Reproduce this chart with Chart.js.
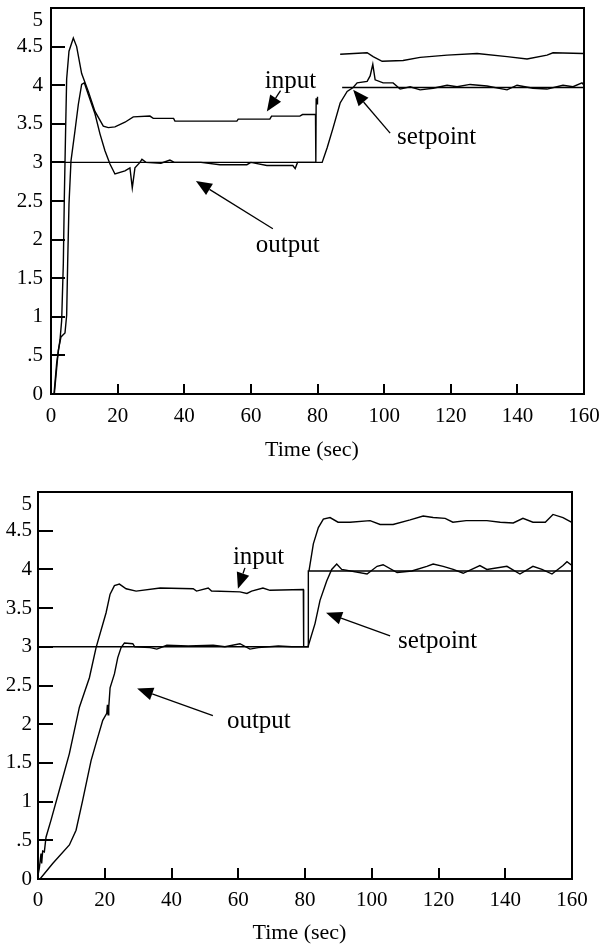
<!DOCTYPE html>
<html><head><meta charset="utf-8">
<script src="https://cdn.jsdelivr.net/npm/chart.js@4.4.1/dist/chart.umd.min.js"></script>
<style>
html,body{margin:0;padding:0;background:#fff;}
#wrap{position:relative;width:600px;height:945px;background:#fff;}
#c1{position:absolute;left:0;top:0;}
#c2{position:absolute;left:0;top:470px;}
</style></head><body>
<div id="wrap"><canvas id="c1" width="600" height="470"></canvas><canvas id="c2" width="600" height="475"></canvas></div>
<script>
// ---------- axis ticks ----------
const xTickStep = 20;      // Time (sec): 0..160
const yTickStep = 0.5;     // 0..5
const xLabelText = 'Time (sec)';

// ---------- top chart data ----------
const topSetT = [0, 79.5, 80, 87.4, 160];
const topSetV = [3, 3, null, 3.97, 3.97];

const topInT = [0.9,1.7,2.7,3.2,3.7,4.0,4.4,4.7,5.4,6.7,7.7,9.2,11.2,13.2,15.7,17.2,19.2,22.2,24.7,29.7,30.7,36.8,37.2,55.8,56.2,65.7,66.2,74.7,75.5,79.4,79.5,79.6,79.9,80.0,83,86.8,94.9,96.7,99.4,105.7,110.8,118.9,127.9,136.9,142.9,148.9,150.7,159.7];
const topInV = [0,0.4,0.7,0.95,1.69,2.54,3.45,4.08,4.44,4.61,4.5,4.15,3.92,3.66,3.47,3.45,3.46,3.52,3.59,3.6,3.57,3.57,3.535,3.535,3.56,3.56,3.6,3.6,3.62,3.62,3.0,3.83,3.76,3.85,null,4.40,4.42,4.37,4.31,4.32,4.36,4.39,4.41,4.37,4.34,4.39,4.42,4.41];

const topOutT = [1.0,2.2,3.0,4.2,4.7,5.0,5.4,6.0,7.2,8.2,9.2,10.0,11.2,13.2,14.7,16.2,17.7,19.2,22.2,23.7,24.4,25.2,26.7,27.3,28.5,33,35.7,37,45,50.7,58.8,60,64.8,72.6,73.3,74,81.4,82.9,84.7,86.8,88.9,90.7,91.9,94.9,95.8,96.6,97.3,99.7,102.7,104.8,107.8,110.8,114.7,118.9,121.9,125.8,130.9,136.9,139.9,144.7,148.9,153.7,156.7,159.4,160];
const topOutV = [0,0.57,0.74,0.79,1.02,1.69,2.46,3.02,3.41,3.75,4.01,4.03,3.88,3.63,3.37,3.15,2.98,2.85,2.89,2.93,2.67,2.93,3.0,3.04,3.0,2.99,3.03,3.0,3.0,2.97,2.97,3.0,2.96,2.96,2.92,3.0,3.0,3.19,3.45,3.77,3.92,3.97,4.03,4.05,4.12,4.27,4.07,4.03,4.03,3.95,3.98,3.94,3.96,4.0,3.98,4.01,3.99,3.94,4.0,3.96,3.95,4.0,3.98,4.03,4.0];

// ---------- bottom chart data ----------
const botSetT = [0, 80.9, 81.0, 160];
const botSetV = [3, 3, 3.98, 3.98];

const botInT = [0,0.4,0.9,1.1,1.4,1.9,2.4,3.9,6.4,9.4,12.4,15.4,17.4,20.4,21.6,22.9,24.4,26.4,29.4,36.6,46.5,47.5,51,52,60.5,62.6,64,67.4,69.5,79.5,79.6,80.5,81.2,82.5,84,85.5,87.5,89.9,93.5,99.5,102.5,106.4,111.5,115.4,118.4,122,124.3,128.3,134.5,138.5,142.4,145.3,148.3,152,154.3,157.3,159.8];
const botInV = [0.05,0.14,0.33,0.2,0.36,0.35,0.54,0.76,1.15,1.62,2.22,2.6,2.99,3.44,3.68,3.79,3.81,3.75,3.72,3.76,3.75,3.72,3.76,3.72,3.71,3.69,3.72,3.76,3.73,3.74,3.0,null,3.98,4.33,4.54,4.65,4.67,4.61,4.61,4.63,4.58,4.58,4.64,4.69,4.67,4.66,4.61,4.63,4.63,4.61,4.6,4.66,4.61,4.61,4.71,4.67,4.61];

const botOutT = [0.6,4.4,9.4,11.4,13.4,15.9,17.9,19.4,20.6,20.8,21.0,21.2,21.6,22.9,23.9,24.9,25.9,28.4,29,33.6,35.6,38.6,45,52.5,56,60.5,63.5,66,72,76,80.9,83,84.5,86.5,88,89.5,91,98.6,101.6,103.4,107.6,112,116.5,118.4,121.4,124.4,127.4,132.4,134.5,140.5,144.4,148.3,151,154,157.3,158.5,160];
const botOutV = [0,0.2,0.44,0.63,1.02,1.53,1.83,2.05,2.14,2.25,2.12,2.22,2.47,2.65,2.86,2.99,3.05,3.04,3.0,2.99,2.97,3.02,3.01,3.02,3.0,3.04,2.97,2.99,3.01,3.0,3.0,3.3,3.6,3.85,4.0,4.07,4.0,3.94,4.04,4.06,3.96,3.98,4.04,4.07,4.04,4.0,3.95,4.05,4.0,4.04,3.94,4.04,4.0,3.94,4.05,4.1,4.05];

// ---------- annotation texts ----------
const noteTexts = ['input', 'setpoint', 'output'];

// annotation anchors (data coordinates) - layout
const topNotes = [
  {tx:64.2, ty:3.97, ax0:68.9, ay0:3.93, ax1:64.8, ay1:3.66},
  {tx:103.9, ty:3.24, ax0:101.8, ay0:3.38, ax1:90.7, ay1:3.94},
  {tx:61.5, ty:1.845, ax0:66.6, ay0:2.14, ax1:43.5, ay1:2.76}
];
const botNotes = [
  {tx:58.4, ty:4.07, ax0:62.0, ay0:4.02, ax1:59.9, ay1:3.75},
  {tx:107.9, ty:2.99, ax0:105.5, ay0:3.14, ax1:86.3, ay1:3.44},
  {tx:56.6, ty:1.95, ax0:52.4, ay0:2.11, ax1:29.7, ay1:2.46}
];

function pts(t, v) { return t.map((x, i) => ({x: x, y: v[i]})); }

function yLabel(value) {
  if (value === 0) return '0';
  if (Math.abs(value - 0.5) < 1e-9) return '.5';
  if (Math.abs(value - 5) < 1e-9) return ['', '5'];
  return String(value);
}

function drawArrow(ctx, x0, y0, x1, y1) {
  const ang = Math.atan2(y1 - y0, x1 - x0);
  const hl = 16, hw = 6.5;
  const bx = x1 - hl * Math.cos(ang), by = y1 - hl * Math.sin(ang);
  ctx.beginPath();
  ctx.lineWidth = 1.3;
  ctx.moveTo(x0, y0); ctx.lineTo(bx, by); ctx.stroke();
  ctx.beginPath();
  ctx.moveTo(x1, y1);
  ctx.lineTo(bx + hw * Math.sin(ang), by - hw * Math.cos(ang));
  ctx.lineTo(bx - hw * Math.sin(ang), by + hw * Math.cos(ang));
  ctx.closePath(); ctx.fill();
}

function framePlugin(L, notes) {
  return {
    id: 'frame',
    afterDatasetsDraw(chart) {
      const ctx = chart.ctx, a = chart.chartArea, x = chart.scales.x, y = chart.scales.y;
      ctx.save();
      ctx.strokeStyle = '#000'; ctx.fillStyle = '#000';
      ctx.lineWidth = 2;
      ctx.strokeRect(a.left, a.top, a.right - a.left, a.bottom - a.top);
      ctx.beginPath();
      y.ticks.forEach(t => {
        if (t.value <= 0 || t.value >= 5) return;
        const py = Math.round(y.getPixelForValue(t.value));
        ctx.moveTo(a.left, py); ctx.lineTo(a.left + L.yTick, py);
      });
      x.ticks.forEach(t => {
        if (t.value <= 0 || t.value >= 160) return;
        const px = Math.round(x.getPixelForValue(t.value));
        ctx.moveTo(px, a.bottom); ctx.lineTo(px, a.bottom - L.xTick);
      });
      ctx.stroke();
      ctx.font = L.noteFont;
      ctx.textAlign = 'left'; ctx.textBaseline = 'alphabetic';
      notes.forEach((n, i) => {
        ctx.fillText(noteTexts[i], x.getPixelForValue(n.tx), y.getPixelForValue(n.ty));
        drawArrow(ctx, x.getPixelForValue(n.ax0), y.getPixelForValue(n.ay0),
                  x.getPixelForValue(n.ax1), y.getPixelForValue(n.ay1));
      });
      ctx.restore();
    }
  };
}

const tickFont = {family: 'Liberation Serif', size: 21};

function makeChart(canvas, series, L, notes) {
  return new Chart(canvas, {
    type: 'line',
    data: {
      datasets: series.map(s => ({
        data: s, borderColor: '#000', borderWidth: 1.4, pointRadius: 0,
        fill: false, tension: 0, spanGaps: false
      }))
    },
    options: {
      responsive: false, animation: false, devicePixelRatio: 1,
      layout: {padding: {left: 0, top: L.top, right: L.right, bottom: 0}},
      plugins: {legend: {display: false}, tooltip: {enabled: false}},
      scales: {
        x: {
          type: 'linear', min: 0, max: 160,
          ticks: {stepSize: xTickStep, autoSkip: false, maxRotation: 0, padding: L.xPad, color: '#000', font: tickFont},
          grid: {display: false, drawTicks: false}, border: {display: false},
          title: {display: true, text: xLabelText + '  ', color: '#000',
                  font: {family: 'Liberation Serif', size: 22}, padding: {top: 0, bottom: L.titlePad}},
          afterFit(s) { s.height = L.xH; s.paddingLeft = 0; s.paddingRight = 0; }
        },
        y: {
          type: 'linear', min: 0, max: 5,
          ticks: {stepSize: yTickStep, autoSkip: false, padding: L.yPad, color: '#000', font: tickFont, callback: yLabel},
          grid: {display: false, drawTicks: false}, border: {display: false},
          afterFit(s) { s.width = L.yW; s.paddingTop = 0; s.paddingBottom = 0; }
        }
      }
    },
    plugins: [framePlugin(L, notes)]
  });
}

makeChart(document.getElementById('c1'),
  [pts(topSetT, topSetV), pts(topInT, topInV), pts(topOutT, topOutV)],
  {top: 8, right: 16, yW: 51, xH: 76, xPad: 9.4, yPad: 8, titlePad: 6.5, yTick: 14, xTick: 10,
   noteFont: '25px "Liberation Serif"'}, topNotes);

makeChart(document.getElementById('c2'),
  [pts(botSetT, botSetV), pts(botInT, botInV), pts(botOutT, botOutV)],
  {top: 22, right: 28, yW: 38, xH: 66, xPad: 8.4, yPad: 6, titlePad: -1, yTick: 15, xTick: 11,
   noteFont: '25px "Liberation Serif"'}, botNotes);
</script>
</body></html>
